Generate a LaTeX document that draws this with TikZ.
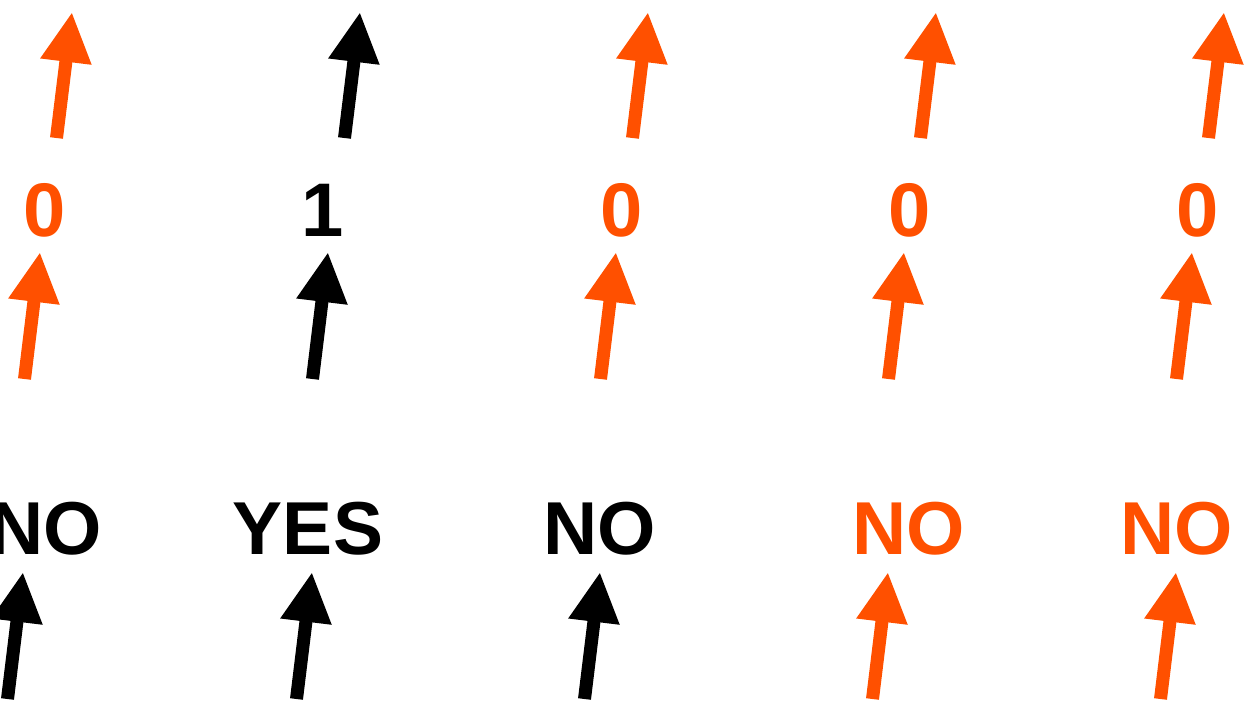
\documentclass[tikz,border=0pt]{standalone}
\usepackage{fontspec}
\setmainfont{Liberation Sans}
\usepackage{xcolor}
\usetikzlibrary{arrows.meta}
\definecolor{hot}{RGB}{255,80,0}

\begin{document}
\begin{tikzpicture}[x=1pt, y=-1pt]
  \tikzset{
    lbl/.style={inner sep=0pt, font=\fontsize{75}{80}\selectfont\bfseries},
    bit/.style={inner sep=0pt, font=\fontsize{76}{80}\selectfont\bfseries},
    arr/.style={-{Triangle[width=48pt,length=50pt]}, line width=13pt}
  }
  \useasboundingbox (0,0) rectangle (1248,704);
  % answers at the bottom
  \node[lbl]       (a1) at (46,529)   {NO};
  \node[lbl]       (a2) at (308,529)  {YES};
  \node[lbl]       (a3) at (600,529)  {NO};
  \node[lbl, hot]  (a4) at (909,529)  {NO};
  \node[lbl, hot]  (a5) at (1177,529) {NO};
  % bits in the middle
  \node[bit, hot]  (b1) at (45,210)   {0};
  \node[bit]       (b2) at (323,210)  {1};
  \node[bit, hot]  (b3) at (622,210)  {0};
  \node[bit, hot]  (b4) at (910,210)  {0};
  \node[bit, hot]  (b5) at (1198,210) {0};
  % arrow ends, three rows
  \foreach \i/\x in {1/23,2/312,3/600,4/888,5/1176}{
    \coordinate (lt\i) at (\x-15.5,699);
    \coordinate (lh\i) at (\x,572);
  }
  \foreach \i/\x in {1/40,2/328,3/616,4/904,5/1192}{
    \coordinate (mt\i) at (\x-15.5,379);
    \coordinate (mh\i) at (\x,252);
  }
  \foreach \i/\x in {1/72,2/360,3/648,4/936,5/1224}{
    \coordinate (ut\i) at (\x-15.5,138);
    \coordinate (uh\i) at (\x,12);
  }
  \foreach \i/\c in {1/black,2/black,3/black,4/hot,5/hot}
    \draw[arr, \c] (lt\i) -- (lh\i);
  \foreach \i/\c in {1/hot,2/black,3/hot,4/hot,5/hot}{
    \draw[arr, \c] (mt\i) -- (mh\i);
    \draw[arr, \c] (ut\i) -- (uh\i);
  }
\end{tikzpicture}
\end{document}
